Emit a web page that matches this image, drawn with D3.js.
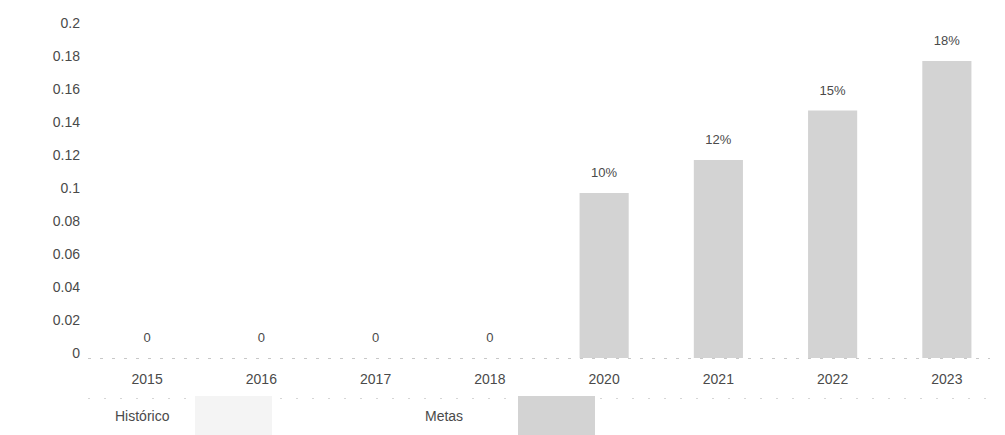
<!DOCTYPE html>
<html>
<head>
<meta charset="utf-8">
<script src="https://cdn.jsdelivr.net/npm/d3@7"></script>
<style>
  html, body { margin: 0; padding: 0; background: #fff; }
  svg { display: block; }
  text { font-family: "Liberation Sans", Arial, sans-serif; }
</style>
</head>
<body>
<svg id="chart" width="1005" height="435"></svg>
<script>
// ---- data ----
const categories = ["2015", "2016", "2017", "2018", "2020", "2021", "2022", "2023"];
const values = [0, 0, 0, 0, 0.10, 0.12, 0.15, 0.18];
const valueLabels = ["0", "0", "0", "0", "10%", "12%", "15%", "18%"];
const seriesOf = ["Histórico", "Histórico", "Histórico", "Histórico", "Metas", "Metas", "Metas", "Metas"];
const legendNames = ["Histórico", "Metas"];
const yTicks = [0, 0.02, 0.04, 0.06, 0.08, 0.1, 0.12, 0.14, 0.16, 0.18, 0.2];

// ---- layout ----
const svg = d3.select("#chart");
const colors = { "Histórico": "#f4f4f4", "Metas": "#d3d3d3" };
const textColor = "#4a4a4a";

const x = d3.scaleBand().domain(categories).range([90, 1004]).paddingInner(0.57).paddingOuter(0.285);
const y = d3.scaleLinear().domain([0, 0.2]).range([358, 28]);

// y axis labels
const yAxis = d3.axisLeft(y).tickValues(yTicks).tickSize(0).tickPadding(0)
  .tickFormat(d => String(+d.toFixed(2)));
const gy = svg.append("g").attr("transform", "translate(80,0)").call(yAxis);
gy.select(".domain").remove();
gy.selectAll("text").attr("fill", textColor).attr("font-size", 14).attr("dy", "-0.05em")
  .attr("font-family", "Liberation Sans, Arial, sans-serif");

// baseline (faint dotted)
svg.append("line").attr("x1", 88).attr("x2", 990).attr("y1", y(0) + 0.5).attr("y2", y(0) + 0.5)
  .attr("stroke", "#c8c8c8").attr("stroke-width", 1).attr("stroke-dasharray", "3,9");
// lower faint border
svg.append("line").attr("x1", 88).attr("x2", 990).attr("y1", 398.5).attr("y2", 398.5)
  .attr("stroke", "#d6d6d6").attr("stroke-width", 1).attr("stroke-dasharray", "2,14");

// bars
const data = categories.map((c, i) => ({ c, v: values[i], lab: valueLabels[i], s: seriesOf[i] }));
svg.append("g").selectAll("rect").data(data.filter(d => d.v > 0)).join("rect")
  .attr("x", d => x(d.c)).attr("width", x.bandwidth())
  .attr("y", d => y(d.v)).attr("height", d => y(0) - y(d.v))
  .attr("fill", d => colors[d.s]);

// value labels
svg.append("g").selectAll("text").data(data).join("text")
  .attr("x", d => x(d.c) + x.bandwidth() / 2)
  .attr("y", d => y(d.v) - 16)
  .attr("text-anchor", "middle").attr("font-size", 13).attr("fill", textColor)
  .text(d => d.lab);

// x axis labels
const xAxis = d3.axisBottom(x).tickSize(0).tickPadding(0);
const gx = svg.append("g").attr("transform", "translate(0,374)").call(xAxis);
gx.select(".domain").remove();
gx.selectAll("text").attr("fill", textColor).attr("font-size", 14)
  .attr("font-family", "Liberation Sans, Arial, sans-serif");

// legend
const legendX = [115, 425];
const lg = svg.append("g").selectAll("g").data(legendNames).join("g")
  .attr("transform", (d, i) => `translate(${legendX[i]},0)`);
lg.append("text").attr("x", 0).attr("y", 421).attr("font-size", 14).attr("fill", textColor).text(d => d);
lg.append("rect").attr("x", (d, i) => i === 0 ? 80 : 93).attr("y", 396).attr("width", 77).attr("height", 39)
  .attr("fill", d => colors[d]);
</script>
</body>
</html>
